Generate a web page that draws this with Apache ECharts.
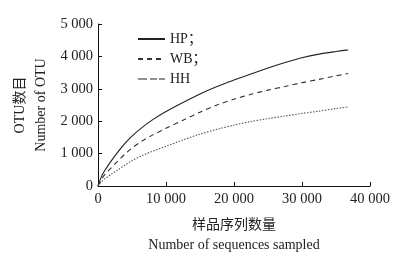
<!DOCTYPE html>
<html>
<head>
<meta charset="utf-8">
<script src="https://cdn.jsdelivr.net/npm/echarts@6/dist/echarts.min.js"></script>
<style>html,body{margin:0;padding:0;background:#fff;}#c{width:417px;height:261px;}</style>
</head>
<body>
<div id="c"></div>
<script>
var seqCounts = [0, 500, 1000, 2000, 3000, 4000, 5000, 6500, 8000, 10000, 12500, 15000, 17500, 20000, 22500, 25000, 27500, 30000, 32500, 35000, 36800];
var hpValues  = [0, 290, 480, 790, 1070, 1320, 1540, 1810, 2040, 2300, 2580, 2840, 3070, 3270, 3460, 3640, 3810, 3960, 4070, 4150, 4200];
var wbValues  = [0, 200, 350, 575, 790, 990, 1170, 1390, 1570, 1780, 2030, 2280, 2500, 2680, 2830, 2960, 3070, 3190, 3290, 3400, 3470];
var hhValues  = [0, 130, 220, 370, 510, 650, 785, 940, 1070, 1225, 1420, 1600, 1750, 1880, 1990, 2080, 2160, 2240, 2310, 2390, 2440];
var seriesNames = ['HP', 'WB', 'HH'];
var legendLabels = {HP: 'HP；', WB: 'WB；', HH: 'HH'};
var yTicks = [0, 1000, 2000, 3000, 4000, 5000];
var xTicks = [0, 10000, 20000, 30000, 40000];

function pairs(xs, ys) { return xs.map(function (x, i) { return [x, ys[i]]; }); }
function fmt(v) { return String(v).replace(/\B(?=(\d{3})+(?!\d))/g, ' '); }

var FONT = "'Liberation Serif','Noto Sans CJK SC',serif";
var chart = echarts.init(document.getElementById('c'), null, {renderer: 'canvas'});
chart.setOption({
  animation: false,
  backgroundColor: '#fff',
  grid: {left: 98, right: 47, top: 24, bottom: 75},
  legend: {
    orient: 'vertical', left: 132, top: 27,
    itemWidth: 27, itemHeight: 14, itemGap: 6,
    itemStyle: {color: 'rgba(0,0,0,0)', borderWidth: 0, opacity: 0},
    textStyle: {fontFamily: FONT, fontSize: 14, color: '#222'},
    formatter: function (n) { return legendLabels[n]; },
    data: [
      {name: 'HP'},
      {name: 'WB'},
      {name: 'HH', lineStyle: {type: [9, 3, 7, 2], color: '#222', width: 1}}
    ]
  },
  xAxis: {
    type: 'value', min: xTicks[0], max: xTicks[xTicks.length - 1], interval: 10000,
    name: '样品序列数量\nNumber of sequences sampled', nameLocation: 'middle', nameGap: 29,
    nameMoveOverlap: false,
    nameTextStyle: {fontFamily: FONT, fontSize: 14, color: '#222', lineHeight: 20},
    axisLine: {lineStyle: {color: '#111', width: 1}},
    axisTick: {inside: true, length: 4, lineStyle: {color: '#111'}},
    axisLabel: {fontFamily: FONT, fontSize: 14.5, color: '#222', margin: 6, formatter: fmt},
    splitLine: {show: false}
  },
  yAxis: {
    type: 'value', min: yTicks[0], max: yTicks[yTicks.length - 1], interval: 1000,
    name: 'OTU数目\nNumber of OTU', nameLocation: 'middle', nameGap: 46, nameRotate: 90,
    nameMoveOverlap: false,
    nameTextStyle: {fontFamily: FONT, fontSize: 14, color: '#222', lineHeight: 21},
    axisLine: {show: true, lineStyle: {color: '#111', width: 1}},
    axisTick: {show: true, inside: true, length: 4, lineStyle: {color: '#111'}},
    axisLabel: {fontFamily: FONT, fontSize: 14.5, color: '#222', margin: 5, formatter: fmt},
    splitLine: {show: false}
  },
  series: [
    {name: seriesNames[0], type: 'line', smooth: 0.3, showSymbol: false,
     data: pairs(seqCounts, hpValues), lineStyle: {color: '#222', width: 1.1, type: 'solid'}, itemStyle: {color: '#222'}},
    {name: seriesNames[1], type: 'line', smooth: 0.3, showSymbol: false,
     data: pairs(seqCounts, wbValues), lineStyle: {color: '#333', width: 1.1, type: [5, 4]}, itemStyle: {color: '#333'}},
    {name: seriesNames[2], type: 'line', smooth: 0.3, showSymbol: false,
     data: pairs(seqCounts, hhValues), lineStyle: {color: '#555', width: 1.1, type: [1.5, 1.5]}, itemStyle: {color: '#555'}}
  ]
});
</script>
</body>
</html>
